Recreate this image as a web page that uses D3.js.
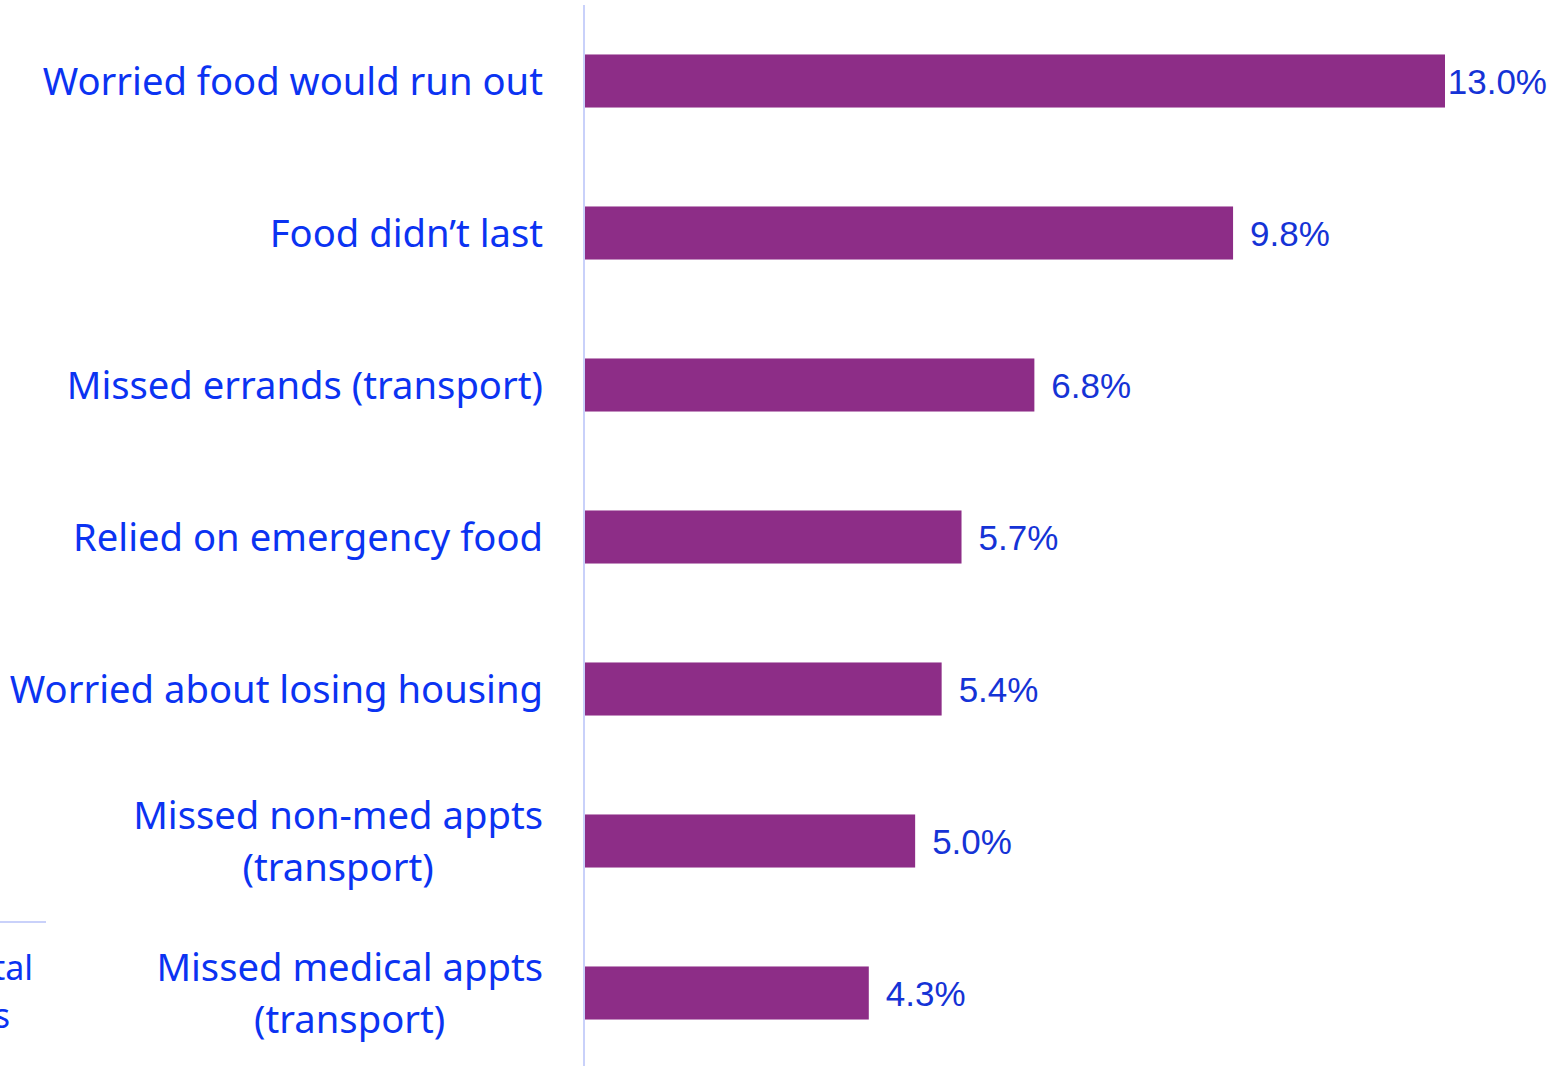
<!DOCTYPE html>
<html><head><meta charset="utf-8">
<script src="https://cdn.jsdelivr.net/npm/d3@7"></script>
<style>html,body{margin:0;padding:0;background:#fff;overflow:hidden}</style>
</head><body>
<svg id="c" width="1567" height="1066"></svg>
<script>
const categories = [
  ["Worried food would run out"],
  ["Food didn\u2019t last"],
  ["Missed errands (transport)"],
  ["Relied on emergency food"],
  ["Worried about losing housing"],
  ["Missed non-med appts", "(transport)"],
  ["Missed medical appts", "(transport)"]
];
const values = [13.0, 9.8, 6.8, 5.7, 5.4, 5.0, 4.3];
const valueLabels = ["13.0%", "9.8%", "6.8%", "5.7%", "5.4%", "5.0%", "4.3%"];
const sideTexts = ["Total", "items"];

const svg = d3.select("#c");
const x0 = 584;
const x = d3.scaleLinear().domain([0, 13.0]).range([x0, 1445]);
const y = d3.scaleBand().domain(d3.range(values.length)).range([5, 1069])
  .paddingInner(0.651).paddingOuter(0.3255);

const barColor = "#8d2d87";
const catColor = "#0b33f2";
const valColor = "#1533d6";

svg.selectAll("rect.bar").data(values).join("rect")
  .attr("class", "bar")
  .attr("x", x(0))
  .attr("y", (d, i) => y(i))
  .attr("width", d => x(d) - x(0))
  .attr("height", y.bandwidth())
  .attr("fill", barColor);

// axis line
svg.append("line").attr("x1", x0).attr("x2", x0).attr("y1", 5).attr("y2", 1066)
  .attr("stroke", "#c9d1fa").attr("stroke-width", 2);

// category labels
const lineH = 52;
const catFont = "'Noto Sans', sans-serif";
categories.forEach((lines, i) => {
  const cy = y(i) + y.bandwidth() / 2;
  const g = svg.append("g");
  const n = lines.length;
  const texts = lines.map((t, j) => g.append("text")
    .attr("y", cy + (j - (n - 1) / 2) * lineH)
    .attr("dy", "0.36em")
    .attr("font-family", catFont)
    .attr("font-size", 38.2)
    .attr("fill", catColor)
    .text(t));
  const widths = texts.map(t => t.node().getComputedTextLength());
  const maxW = Math.max(...widths);
  const centerX = 543 - maxW / 2;
  texts.forEach(t => t.attr("x", centerX).attr("text-anchor", "middle"));
});

// value labels
svg.selectAll("text.val").data(values).join("text")
  .attr("class", "val")
  .attr("font-family", "'Liberation Sans', Arial, sans-serif")
  .attr("font-size", 35)
  .attr("fill", valColor)
  .attr("y", (d, i) => y(i) + y.bandwidth() / 2)
  .attr("dy", "0.36em")
  .text((d, i) => valueLabels[i])
  .each(function (d) {
    const w = this.getComputedTextLength();
    let tx = x(d) + 17;
    if (tx + w > 1547) tx = 1547 - w;
    d3.select(this).attr("x", tx);
  });

// cropped legend remnants on left (cut off at the edge, as in the reference)
svg.append("line").attr("x1", 0).attr("x2", 46).attr("y1", 922).attr("y2", 922)
  .attr("stroke", "#c9d1fa").attr("stroke-width", 2);
sideTexts.forEach((t, j) => {
  svg.append("text").attr("x", j === 0 ? 33 : 10).attr("y", 968 + j * 48)
    .attr("dy", "0.36em").attr("text-anchor", "end")
    .attr("font-family", catFont).attr("font-size", 34).attr("fill", catColor)
    .text(t);
});
</script>
</body></html>
